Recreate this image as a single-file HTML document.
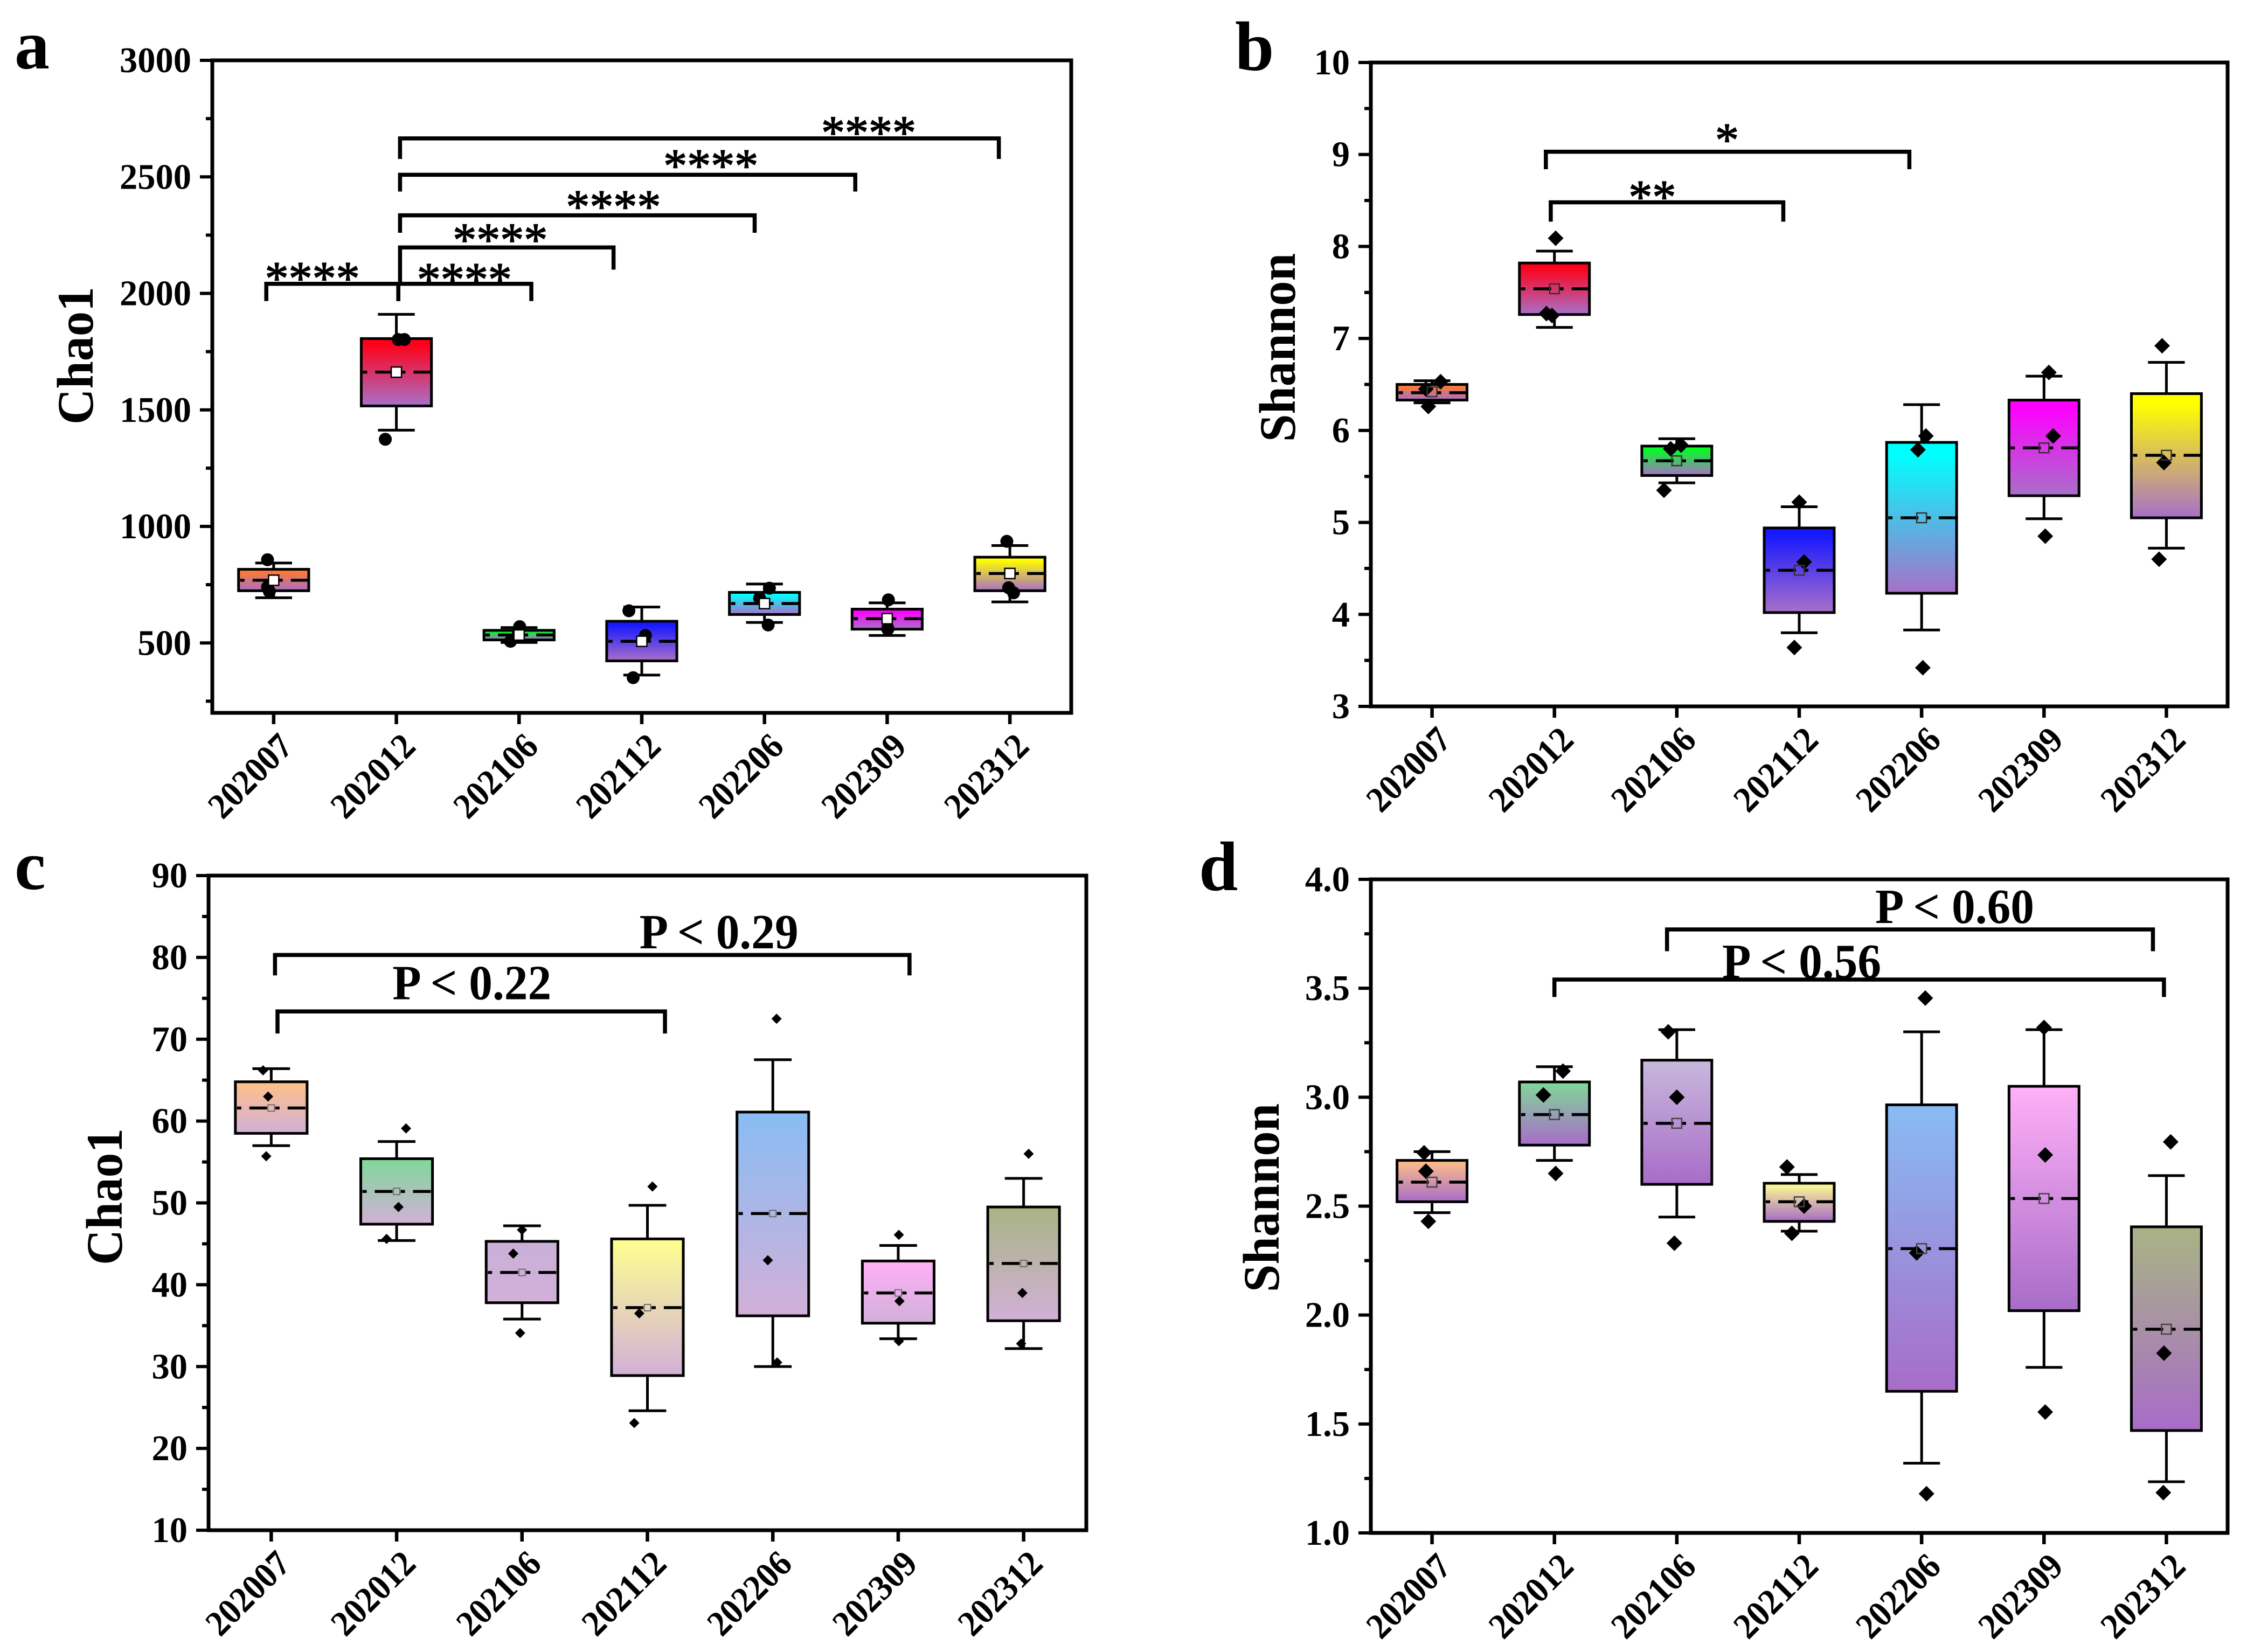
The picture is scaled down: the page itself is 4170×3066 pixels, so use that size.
<!DOCTYPE html>
<html lang="en">
<head>
<meta charset="utf-8">
<title>Alpha diversity box plots</title>
<style>
html,body{margin:0;padding:0;background:#fff;}
svg{display:block;}
text{font-family:"Liberation Serif",serif;font-weight:bold;fill:#000;}
</style>
</head>
<body>
<svg id="figure" xmlns="http://www.w3.org/2000/svg" width="4170" height="3066" viewBox="0 0 4170 3066">
<defs id="gradients"></defs>
<rect x="0" y="0" width="4170" height="3066" fill="#fff"/>
</svg>
<script>
// ---- shared categories ----
const categories = ['202007','202012','202106','202112','202206','202309','202312'];

// ---- panel a ----
const aTickValues = [500,1000,1500,2000,2500,3000];
const aTickLabels = ['500','1000','1500','2000','2500','3000'];
const aMinorTicks = [250,750,1250,1750,2250,2750];
const aQ3 = [816,1806,554,593,717,645,868];
const aQ1 = [724,1517,513,423,622,559,724];
const aMedian = [769,1662,534,507,669,604,798];
const aMean = [769,1662,534,507,669,604,798];
const aHigh = [843,1910,566,654,753,672,918];
const aLow = [694,1413,502,362,588,532,676];
const aPointValues = [[857,740,721],[1802,1802,1374],[570,547,507],[638,532,351],[735,692,577],[685,563,559],[936,737,715]];
const aPointJitter = [[-0.05,-0.05,-0.035],[0.015,0.065,-0.09],[0.005,-0.005,-0.07],[-0.105,0.03,-0.07],[0.04,-0.04,0.03],[0.01,0.005,0.005],[-0.025,-0.01,0.03]];
const aBracketStart = [0.94,2.016,2.03,2.03,2.03,2.03];
const aBracketEnd = [2.016,3.10,3.77,4.92,5.74,6.91];
const aBracketLevel = [2041,2041,2197,2335,2509,2665];
const aBracketTipStart = [1967,1967,2041,2260,2437,2577];
const aBracketTipEnd = [1967,1967,2102,2260,2437,2577];
const aNoteLabels = ['****','****','****','****','****','****'];
const aNoteCategory = [1.315,2.554,2.846,3.769,4.563,5.849];
const aNoteValue = [2089,2084,2254,2396,2572,2715];

// ---- panel b ----
const bTickValues = [3,4,5,6,7,8,9,10];
const bTickLabels = ['3','4','5','6','7','8','9','10'];
const bMinorTicks = [3.5,4.5,5.5,6.5,7.5,8.5,9.5];
const bQ3 = [6.50,7.82,5.83,4.94,5.87,6.33,6.40];
const bQ1 = [6.33,7.26,5.51,4.02,4.23,5.29,5.05];
const bMedian = [6.41,7.54,5.67,4.48,5.05,5.81,5.73];
const bMean = [6.42,7.54,5.67,4.48,5.05,5.81,5.73];
const bHigh = [6.54,7.95,5.91,5.17,6.28,6.59,6.74];
const bLow = [6.30,7.12,5.43,3.80,3.83,5.04,4.72];
const bPointValues = [[6.53,6.45,6.26],[8.09,7.27,7.25],[5.84,5.80,5.35],[5.22,4.57,3.64],[5.94,5.79,3.42],[6.63,5.94,4.85],[6.92,5.65,4.60]];
const bPointJitter = [[0.07,-0.05,-0.03],[0.01,-0.065,-0.02],[0.035,-0.05,-0.105],[0,0.04,-0.04],[0.035,-0.03,0.01],[0.04,0.075,0.01],[-0.035,-0.02,-0.06]];
const bBracketStart = [1.93,1.97];
const bBracketEnd = [4.90,3.87];
const bBracketLevel = [9.03,8.48];
const bBracketTipStart = [8.84,8.27];
const bBracketTipEnd = [8.84,8.27];
const bNoteLabels = ['*','**'];
const bNoteCategory = [3.41,2.80];
const bNoteValue = [9.22,8.60];

// ---- panel c ----
const cTickValues = [10,20,30,40,50,60,70,80,90];
const cTickLabels = ['10','20','30','40','50','60','70','80','90'];
const cMinorTicks = [15,25,35,45,55,65,75,85];
const cQ3 = [64.8,55.4,45.3,45.6,61.1,42.9,49.5];
const cQ1 = [58.5,47.4,37.8,28.9,36.2,35.3,35.6];
const cMedian = [61.6,51.4,41.5,37.2,48.7,39.0,42.6];
const cMean = [61.6,51.4,41.5,37.2,48.7,39.0,42.6];
const cHigh = [66.4,57.5,47.2,49.7,67.5,44.8,53.0];
const cLow = [57.0,45.4,35.8,24.6,30.0,33.4,32.2];
const cPointValues = [[66.2,63.0,55.7],[59.1,49.5,45.6],[46.7,43.8,34.1],[52.0,36.5,23.1],[72.5,43.0,30.5],[46.1,38.0,33.1],[56.0,39.0,32.8]];
const cPointJitter = [[-0.065,-0.025,-0.04],[0.075,0.015,-0.08],[0,-0.07,-0.015],[0.04,-0.065,-0.105],[0.03,-0.04,0.035],[0.005,0.01,0.005],[0.04,-0.01,-0.02]];
const cBracketStart = [1.03,1.05];
const cBracketEnd = [6.09,4.14];
const cBracketLevel = [80.3,73.4];
const cBracketTipStart = [77.8,70.7];
const cBracketTipEnd = [77.8,70.7];
const cNoteLabels = ['P < 0.29','P < 0.22'];
const cNoteCategory = [4.57,2.60];
const cNoteValue = [81.1,74.9];

// ---- panel d ----
const dTickValues = [1,1.5,2,2.5,3,3.5,4];
const dTickLabels = ['1.0','1.5','2.0','2.5','3.0','3.5','4.0'];
const dMinorTicks = [1.25,1.75,2.25,2.75,3.25,3.75];
const dQ3 = [2.71,3.07,3.17,2.605,2.965,3.05,2.405];
const dQ1 = [2.52,2.78,2.60,2.43,1.65,2.02,1.47];
const dMedian = [2.61,2.92,2.88,2.52,2.305,2.535,1.935];
const dMean = [2.61,2.92,2.88,2.52,2.305,2.535,1.935];
const dHigh = [2.75,3.14,3.31,2.645,3.30,3.31,2.64];
const dLow = [2.47,2.71,2.45,2.385,1.32,1.76,1.235];
const dPointValues = [[2.745,2.66,2.43],[3.12,3.01,2.65],[3.30,3.00,2.33],[2.68,2.50,2.375],[3.455,2.285,1.18],[3.32,2.735,1.555],[2.795,1.825,1.185]];
const dPointJitter = [[-0.065,-0.05,-0.03],[0.07,-0.09,0.01],[-0.07,0,-0.02],[-0.1,0.04,-0.06],[0.03,-0.04,0.04],[0,0.01,0.01],[0.035,-0.02,-0.025]];
const dBracketStart = [2.92,2.00];
const dBracketEnd = [6.89,6.98];
const dBracketLevel = [3.77,3.54];
const dBracketTipStart = [3.67,3.46];
const dBracketTipEnd = [3.67,3.46];
const dNoteLabels = ['P < 0.60','P < 0.56'];
const dNoteCategory = [5.27,4.02];
const dNoteValue = [3.80,3.548];

// ---- panel configuration (layout and style only) ----
const vividTops = ['#ff7a30','#ff0018','#00ff20','#1818ff','#00ffff','#ff00ff','#ffff00'];
const paleTops = ['#ffc088','#80d898','#c8b0d8','#ffff90','#88bcf4','#ffb0f8','#a8b484'];
const paleTopsD = ['#ffc088','#80d898','#c8b8dc','#ffff90','#88bcf4','#ffb0f8','#a8b484'];

const panels = [
  {id:'a', letter:[27,127], title:'Chao1', titleX:172, titleY:660, titleLen:256, titleSize:95,
   l:394, r:1988, t:112, b:1323, yMin:200, yMax:3000,
   ticks:aTickValues, labels:aTickLabels, minor:aMinorTicks,
   q3:aQ3, q1:aQ1, median:aMedian, mean:aMean, high:aHigh, low:aLow, pts:aPointValues, jitter:aPointJitter,
   bs:aBracketStart, be:aBracketEnd, bl:aBracketLevel, bts:aBracketTipStart, bte:aBracketTipEnd,
   nl:aNoteLabels, nc:aNoteCategory, nv:aNoteValue,
   tops:vividTops, hold:0.08, bottom:'#a870c8', marker:'circle', mSize:12, meanSize:19, meanFill:'#fff', meanStroke:'#000', meanWidth:2.5},
  {id:'b', letter:[2292,130], title:'Shannon', titleX:2403, titleY:645, titleLen:350, titleSize:95,
   l:2544, r:4134, t:116, b:1311, yMin:3, yMax:10,
   ticks:bTickValues, labels:bTickLabels, minor:bMinorTicks,
   q3:bQ3, q1:bQ1, median:bMedian, mean:bMean, high:bHigh, low:bLow, pts:bPointValues, jitter:bPointJitter,
   bs:bBracketStart, be:bBracketEnd, bl:bBracketLevel, bts:bBracketTipStart, bte:bBracketTipEnd,
   nl:bNoteLabels, nc:bNoteCategory, nv:bNoteValue,
   tops:vividTops, hold:0.08, bottom:'#a870c8', marker:'diamond', mSize:14.5, meanSize:18, meanFill:'none', meanStroke:'#333', meanWidth:2.5},
  {id:'c', letter:[27,1650], title:'Chao1', titleX:226, titleY:2221, titleLen:254, titleSize:95,
   l:387, r:2016, t:1625, b:2840, yMin:10, yMax:90,
   ticks:cTickValues, labels:cTickLabels, minor:cMinorTicks,
   q3:cQ3, q1:cQ1, median:cMedian, mean:cMean, high:cHigh, low:cLow, pts:cPointValues, jitter:cPointJitter,
   bs:cBracketStart, be:cBracketEnd, bl:cBracketLevel, bts:cBracketTipStart, bte:cBracketTipEnd,
   nl:cNoteLabels, nc:cNoteCategory, nv:cNoteValue,
   tops:paleTops, hold:0, bottom:'#d2b0d8', marker:'diamond', mSize:9.5, meanSize:12, meanFill:'none', meanStroke:'#666', meanWidth:1.8},
  {id:'d', letter:[2225,1652], title:'Shannon', titleX:2373, titleY:2223, titleLen:350, titleSize:95,
   l:2544, r:4134, t:1632, b:2845, yMin:1, yMax:4,
   ticks:dTickValues, labels:dTickLabels, minor:dMinorTicks,
   q3:dQ3, q1:dQ1, median:dMedian, mean:dMean, high:dHigh, low:dLow, pts:dPointValues, jitter:dPointJitter,
   bs:dBracketStart, be:dBracketEnd, bl:dBracketLevel, bts:dBracketTipStart, bte:dBracketTipEnd,
   nl:dNoteLabels, nc:dNoteCategory, nv:dNoteValue,
   tops:paleTopsD, hold:0, bottom:'#a86cc8', marker:'diamond', mSize:14.5, meanSize:18, meanFill:'none', meanStroke:'#444', meanWidth:2.5}
];

const NS = 'http://www.w3.org/2000/svg';
const svgRoot = document.getElementById('figure');
const defs = document.getElementById('gradients');

function make(tag, attrs, parent, content) {
  const node = document.createElementNS(NS, tag);
  for (const k in attrs) node.setAttribute(k, attrs[k]);
  if (content !== undefined) node.textContent = content;
  parent.appendChild(node);
  return node;
}

function drawPanel(p) {
  const band = (p.r - p.l) / categories.length;
  const xScale = function (c) { return p.l + (c - 0.5) * band; };
  const yScale = function (v) { return p.b - (v - p.yMin) / (p.yMax - p.yMin) * (p.b - p.t); };

  const panel = make('g', {}, svgRoot);
  
  

  const letter = make('text', {x:p.letter[0], y:p.letter[1], 'font-size':130}, panel, p.id);
  
  

  const scaleX = (p.titleLen / (p.title === 'Chao1' ? 2.778 : 3.78) / p.titleSize).toFixed(3);
  const title = make('text', {
    transform:'translate(' + p.titleX + ' ' + p.titleY + ') rotate(-90) scale(' + scaleX + ' 1)',
    'text-anchor':'middle', 'font-size':p.titleSize, x:0, y:0
  }, panel, p.title);
  
  

  // y axis ticks
  const yAxis = make('g', {}, panel);
  
  
  p.ticks.forEach(function (v, i) {
    const y = yScale(v);
    const tick = make('line', {x1:p.l - 23, x2:p.l, y1:y, y2:y, stroke:'#000', 'stroke-width':6}, yAxis);
    
    
    const label = make('text', {x:p.l - 39, y:y + 22, 'text-anchor':'end', 'font-size':66.5}, yAxis, p.labels[i]);
    
    
  });
  p.minor.forEach(function (v) {
    const y = yScale(v);
    const tick = make('line', {x1:p.l - 12, x2:p.l, y1:y, y2:y, stroke:'#000', 'stroke-width':6}, yAxis);
    
    
  });

  // x axis ticks
  const xAxis = make('g', {}, panel);
  
  
  categories.forEach(function (cat, i) {
    const x = xScale(i + 1);
    const tick = make('line', {x1:x, x2:x, y1:p.b, y2:p.b + 21, stroke:'#000', 'stroke-width':6.5}, xAxis);
    
    
    const label = make('text', {
      transform:'translate(' + (x + 39) + ' ' + (p.b + 66) + ') rotate(-45)',
      x:0, y:0, 'text-anchor':'end', 'font-size':67, textLength:189, lengthAdjust:'spacingAndGlyphs'
    }, xAxis, cat);
    
    
  });

  // boxes
  const boxWidth = band * 0.572;
  const capWidth = band * 0.3;
  categories.forEach(function (cat, i) {
    const cx = xScale(i + 1);
    const group = make('g', {}, panel);
    
    

    const gradId = 'grad-' + p.id + '-' + i;
    const grad = make('linearGradient', {id:gradId, x1:0, y1:0, x2:0, y2:1}, defs);
    make('stop', {offset:String(p.hold), 'stop-color':p.tops[i]}, grad);
    make('stop', {offset:'1', 'stop-color':p.bottom}, grad);

    const yHi = yScale(p.high[i]), yLo = yScale(p.low[i]);
    const yQ3 = yScale(p.q3[i]), yQ1 = yScale(p.q1[i]);
    const yMed = yScale(p.median[i]), yMean = yScale(p.mean[i]);

    const whiskers = make('path', {
      d:'M' + cx + ' ' + yQ3 + 'V' + yHi + 'M' + (cx - capWidth / 2) + ' ' + yHi + 'H' + (cx + capWidth / 2) +
        'M' + cx + ' ' + yQ1 + 'V' + yLo + 'M' + (cx - capWidth / 2) + ' ' + yLo + 'H' + (cx + capWidth / 2),
      fill:'none', stroke:'#000', 'stroke-width':5
    }, group);
    
    

    const rect = make('rect', {
      x:cx - boxWidth / 2, y:yQ3, width:boxWidth, height:yQ1 - yQ3,
      fill:'url(#' + gradId + ')', stroke:'#000', 'stroke-width':5
    }, group);
    
    

    const med = make('line', {
      x1:cx - boxWidth / 2 + 3, x2:cx + boxWidth / 2, y1:yMed, y2:yMed,
      stroke:'#000', 'stroke-width':5.5, 'stroke-dasharray':'8 15 33 15'
    }, group);
    
    

    p.pts[i].forEach(function (v, k) {
      const px = xScale(i + 1 + p.jitter[i][k]);
      const py = yScale(v);
      let mark;
      if (p.marker === 'circle') {
        mark = make('circle', {cx:px, cy:py, r:p.mSize, fill:'#000'}, group);
      } else {
        const s = p.mSize;
        mark = make('polygon', {points:px + ',' + (py - s) + ' ' + (px + s) + ',' + py + ' ' + px + ',' + (py + s) + ' ' + (px - s) + ',' + py, fill:'#000'}, group);
      }
      
      
    });

    const meanMark = make('rect', {
      x:cx - p.meanSize / 2, y:yMean - p.meanSize / 2, width:p.meanSize, height:p.meanSize,
      fill:p.meanFill, stroke:p.meanStroke, 'stroke-width':p.meanWidth
    }, group);
    
    
  });

  // annotation text
  p.nl.forEach(function (t, i) {
    const isStars = t.charAt(0) === '*';
    const attrs = {
      x:xScale(p.nc[i]), 'text-anchor':'middle'
    };
    if (isStars) {
      attrs.y = yScale(p.nv[i]) + 40;
      attrs['font-size'] = 88;
      attrs.style = 'font-weight:normal;stroke:#000;stroke-width:1.6';
    } else {
      attrs.y = yScale(p.nv[i]);
      attrs['font-size'] = 91;
      attrs.textLength = 295;
      attrs.lengthAdjust = 'spacingAndGlyphs';
    }
    const note = make('text', attrs, panel, t);
    
    
  });

  // significance brackets
  p.bs.forEach(function (s, i) {
    const x1 = xScale(s), x2 = xScale(p.be[i]);
    const br = make('path', {
      d:'M' + x1 + ' ' + yScale(p.bts[i]) + 'V' + yScale(p.bl[i]) + 'H' + x2 + 'V' + yScale(p.bte[i]),
      fill:'none', stroke:'#000', 'stroke-width':7.5, 'stroke-linejoin':'miter'
    }, panel);
    
    
  });

  const frame = make('rect', {x:p.l, y:p.t, width:p.r - p.l, height:p.b - p.t, fill:'none', stroke:'#000', 'stroke-width':7}, panel);
  
  
}

panels.forEach(drawPanel);
</script>
</body>
</html>
